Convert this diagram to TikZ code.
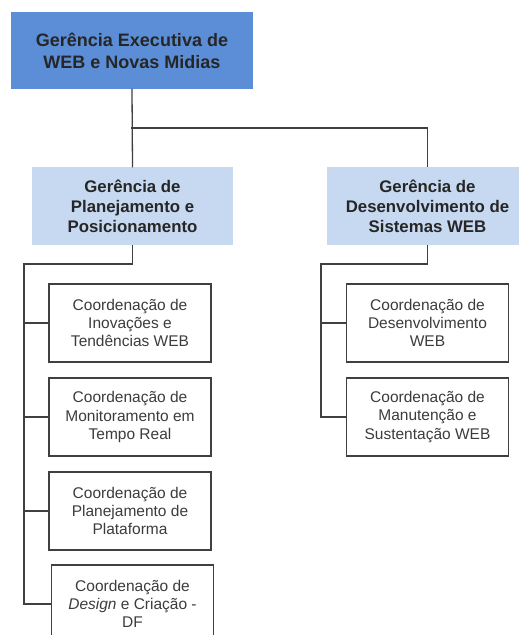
\documentclass[tikz,border=0pt]{standalone}
\usepackage{fontspec}
\setmainfont{Liberation Sans}
\usetikzlibrary{positioning}

\definecolor{execblue}{RGB}{91,142,214}
\definecolor{gerblue}{RGB}{198,217,241}
\definecolor{linegray}{RGB}{64,64,64}
\definecolor{textgray}{RGB}{60,60,60}

\begin{document}
\begin{tikzpicture}[x=1pt, y=-1pt, line cap=rect,
    exec/.style={fill=execblue, draw=none, minimum width=242pt, minimum height=77pt,
      align=center, font=\bfseries\fontsize{18}{21.8}\selectfont, text=black!85},
    ger/.style={fill=gerblue, draw=none, minimum width=201pt, minimum height=78pt,
      align=center, font=\bfseries\fontsize{16.8}{20}\selectfont, text=black!85},
    coord/.style={fill=white, draw=linegray, line width=1.1pt, minimum width=162pt,
      minimum height=78pt, align=center, font=\fontsize{15.5}{18.3}\selectfont, text=textgray},
    link/.style={draw=linegray, line width=1.3pt}]
  \useasboundingbox (0,0) rectangle (519,635);

  % executive level
  \node[exec] (ge) at (132,50.5) {Gerência Executiva de\\WEB e Novas Midias};

  % managements
  \node[ger] (gp) at (132.5,206) {Gerência de\\Planejamento e\\Posicionamento};
  \node[ger] (gd) at (427.5,206) {Gerência de\\Desenvolvimento de\\Sistemas WEB};

  % coordinations under planning
  \node[coord] (cp1) at (130,323) {Coordenação de\\Inovações e\\Tendências WEB};
  \node[coord] (cp2) at (130,417) {Coordenação de\\Monitoramento em\\Tempo Real};
  \node[coord] (cp3) at (130,511) {Coordenação de\\Planejamento de\\Plataforma};
  \node[coord] (cp4) at (132.5,604) {Coordenação de\\\textit{Design} e Criação -\\DF};

  % coordinations under development
  \node[coord] (cd1) at (427.5,323) {Coordenação de\\Desenvolvimento\\WEB};
  \node[coord] (cd2) at (427.5,417) {Coordenação de\\Manutenção e\\Sustentação WEB};

  % connectors
  \coordinate (busT) at (132,128);
  \coordinate (busL) at (24,264);
  \coordinate (busR) at (321,264);
  \draw[link] (ge.south) -- (gp.north);
  \draw[link] (busT) -| (gd.north);
  \draw[link] (gp.south) |- (busL) |- (cp4.west);
  \foreach \c in {cp1,cp2,cp3}
    \draw[link] (busL |- \c.west) -- (\c.west);
  \draw[link] (gd.south) |- (busR) |- (cd2.west);
  \draw[link] (busR |- cd1.west) -- (cd1.west);
\end{tikzpicture}
\end{document}
